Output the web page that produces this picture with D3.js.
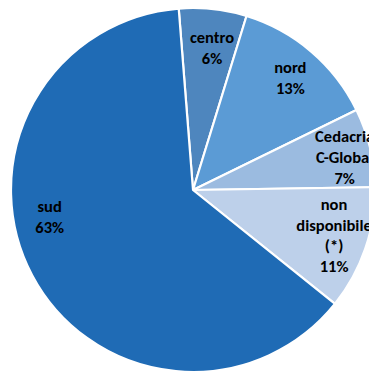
<!DOCTYPE html>
<html>
<head>
<meta charset="utf-8">
<script src="https://cdn.jsdelivr.net/npm/d3@7"></script>
<style>
  html, body { margin: 0; padding: 0; background: #fff; overflow: hidden; }
  svg { display: block; }
</style>
</head>
<body>
<svg id="chart" width="369" height="376"></svg>
<script>
// Distribution by area (percent)
const categories = ["centro", "nord", "Cedacria C-Global", "non disponibile (*)", "sud"];
const values = [6, 13, 7, 11, 63];
const labelLines = [
  ["centro", "6%"],
  ["nord", "13%"],
  ["Cedacria", "C-Global", "7%"],
  ["non", "disponibile", "(*)", "11%"],
  ["sud", "63%"]
];

// Slice colours and label placement (angle in degrees clockwise from top, radius in px)
const colors = ["#4e86be", "#5b9bd5", "#9bbbe0", "#bdd0ea", "#1f6bb5"];
const labelPlacement = [
  { angle: 7.9, radius: 138 },
  { angle: 42.5, radius: 144 },
  { angle: 79.9, radius: 154 },
  { angle: 109.9, radius: 150 },
  { angle: 257.2, radius: 147 }
];

const cx = 193, cy = 190, R = 182;
const startAngle = -4.5 * Math.PI / 180;

const svg = d3.select("#chart");
const g = svg.append("g").attr("transform", `translate(${cx},${cy})`);

const pie = d3.pie()
  .sort(null)
  .value(d => d.value)
  .startAngle(startAngle)
  .endAngle(startAngle + 2 * Math.PI);

const data = categories.map((c, i) => ({ category: c, value: values[i], lines: labelLines[i], i }));
const arcs = pie(data);

const arc = d3.arc().innerRadius(0).outerRadius(R);

g.selectAll("path.slice")
  .data(arcs)
  .join("path")
  .attr("class", "slice")
  .attr("d", arc)
  .attr("fill", d => colors[d.data.i])
  .attr("stroke", "#ffffff")
  .attr("stroke-width", 2.2)
  .attr("stroke-linejoin", "round");

const lineH = 20.8;
const labels = g.selectAll("text.lbl")
  .data(arcs)
  .join("text")
  .attr("class", "lbl")
  .attr("text-anchor", "middle")
  .attr("font-family", "Carlito, Lato, 'Open Sans', sans-serif")
  .attr("font-weight", "bold")
  .attr("font-size", "16.5px")
  .attr("fill", "#000")
  .attr("transform", d => {
    const p = labelPlacement[d.data.i];
    const a = p.angle * Math.PI / 180;
    return `translate(${p.radius * Math.sin(a)},${-p.radius * Math.cos(a)})`;
  });

labels.each(function(d) {
  const lines = d.data.lines;
  const y0 = -(lines.length - 1) * lineH / 2;
  d3.select(this).selectAll("tspan")
    .data(lines)
    .join("tspan")
    .attr("x", 0)
    .attr("y", (t, k) => y0 + k * lineH)
    .text(t => t);
});
</script>
</body>
</html>
